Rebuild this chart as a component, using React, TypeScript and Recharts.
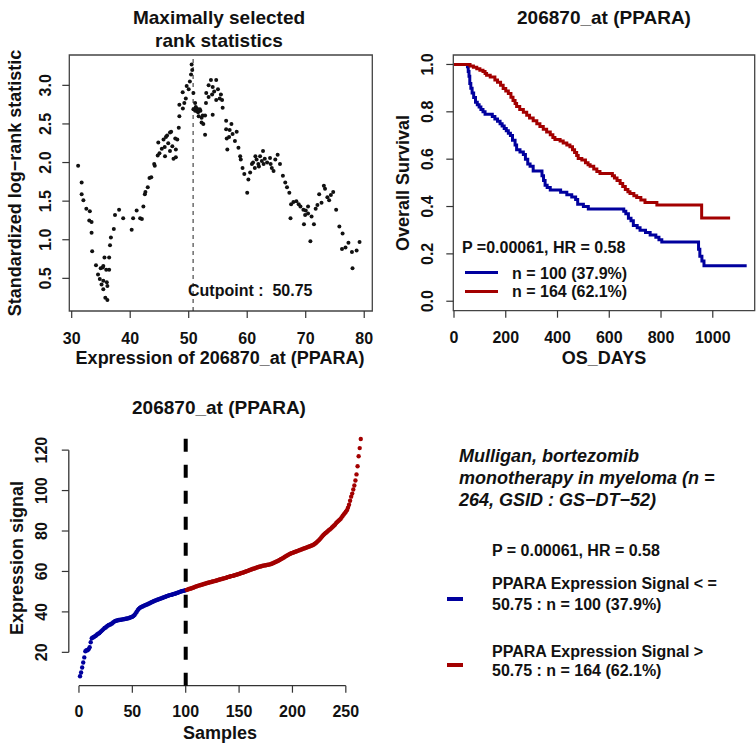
import React from "react"
import {
  ScatterChart,
  Scatter,
  LineChart,
  Line,
  XAxis,
  YAxis,
  ReferenceLine,
  ReferenceArea,
} from "recharts"

// maximally selected rank statistics (cutpoint candidate, standardized statistic)
const rankCut = [
  31.1, 31.7, 31.7, 32.0, 32.5, 33.0, 33.1, 33.4, 33.4, 33.5, 34.15, 34.5, 34.8, 34.95, 35.1, 35.3, 35.4, 35.4, 35.4,
  35.6, 35.75, 35.9, 36.0, 36.1, 36.1, 36.4, 36.4, 36.55, 36.7, 37.2, 37.4, 38.1, 38.8, 40.25, 40.5, 41.1, 41.7, 42.0,
  42.25, 42.5, 42.6, 43.0, 43.3, 43.6, 44.1, 44.2, 44.7, 44.8, 45.0, 45.4, 45.7, 45.9, 45.95, 46.1, 46.3, 46.5, 46.8,
  46.8, 47.0, 47.2, 47.4, 47.7, 47.8, 47.8, 48.05, 48.3, 48.4, 48.4, 48.97, 49.0, 49.25, 49.5, 49.65, 50.0, 50.2, 50.4,
  50.5, 50.6, 50.8, 50.8, 51.1, 51.1, 51.2, 51.35, 51.4, 51.6, 51.7, 51.9, 52.0, 52.2, 52.2, 52.4, 52.5, 52.8, 52.8,
  52.95, 53.0, 53.4, 53.4, 53.8, 54.0, 54.1, 54.1, 54.35, 54.7, 54.7, 55.0, 55.3, 55.5, 55.7, 55.8, 56.4, 56.4, 56.5,
  56.6, 56.9, 57.0, 57.3, 57.5, 57.9, 58.2, 58.5, 58.8, 58.9, 59.2, 59.5, 60.0, 60.2, 60.5, 60.8, 61.0, 61.3, 61.4,
  61.6, 61.9, 62.0, 62.2, 62.5, 62.7, 62.8, 63.0, 63.4, 63.9, 64.0, 64.2, 64.5, 64.8, 65.2, 65.6, 66.1, 66.5, 66.8,
  67.2, 67.4, 67.5, 67.9, 68.4, 68.8, 69.1, 69.6, 69.7, 69.9, 70.0, 70.4, 70.4, 70.8, 71.0, 71.4, 71.7, 72.0, 72.3,
  72.7, 73.1, 73.3, 73.7, 74.0, 74.3, 74.7, 75.2, 75.75, 76.2, 76.3, 76.8, 77.3, 77.9, 78.0, 78.7, 79.2,
]
const rankStat = [
  1.96, 1.74, 1.59, 1.51, 1.4, 1.25, 1.37, 1.23, 1.09, 0.85, 0.67, 0.55, 0.49, 0.63, 0.42, 0.64, 0.66, 0.47, 0.36,
  0.77, 0.25, 0.61, 0.45, 0.4, 0.22, 0.77, 0.61, 0.93, 1.03, 1.14, 1.32, 1.39, 1.28, 1.13, 1.28, 1.38, 1.28, 1.27,
  1.43, 1.59, 1.62, 1.68, 1.8, 1.81, 1.98, 1.96, 2.09, 2.26, 2.12, 2.18, 2.3, 2.2, 2.08, 2.33, 2.35, 2.25, 2.39,
  2.15, 2.4, 2.21, 2.05, 2.31, 2.07, 2.17, 2.3, 2.45, 2.6, 2.75, 2.91, 2.7, 2.77, 2.83, 2.99, 2.95, 3.05, 3.14,
  3.27, 3.2, 2.9, 2.69, 2.77, 2.67, 2.72, 2.67, 2.7, 2.65, 2.6, 2.69, 2.67, 2.52, 2.58, 2.61, 2.5, 2.36, 2.61,
  2.77, 2.9, 2.85, 3.0, 3.07, 2.88, 2.98, 2.62, 2.92, 3.07, 2.81, 2.95, 2.83, 2.88, 2.81, 2.71, 2.54, 2.43, 2.31,
  2.17, 2.33, 2.42, 2.5, 2.37, 2.28, 2.4, 2.19, 2.08, 2.04, 1.93, 1.85, 1.61, 1.78, 1.87, 1.98, 2.0, 1.93, 2.08,
  2.04, 1.98, 1.95, 2.08, 2.02, 2.15, 1.98, 2.05, 2.0, 2.06, 1.98, 1.93, 1.89, 2.04, 2.1, 1.98, 1.83, 1.74, 1.68,
  1.61, 1.28, 1.46, 1.49, 1.5, 1.46, 1.43, 1.39, 1.2, 1.32, 1.38, 1.43, 1.34, 0.98, 1.3, 1.2, 1.4, 1.45, 1.59,
  1.48, 1.7, 1.66, 1.55, 1.51, 1.58, 1.62, 1.39, 1.17, 0.88, 1.08, 0.9, 0.96, 0.84, 0.63, 0.86, 0.97,
]
const cutpoint = 50.75
const rankXTicks = [30, 40, 50, 60, 70, 80]
const rankYTicks = [0.5, 1.0, 1.5, 2.0, 2.5, 3.0]

// Kaplan-Meier curves: low expression (blue, n = 100) and high expression (red, n = 164)
const lowDays = [
  0, 52, 55, 58, 61, 65, 70, 76, 83, 90, 97, 104, 112, 120, 148, 158, 168, 178, 186, 194, 202, 210, 218, 226, 236,
  242, 255, 268, 276, 285, 294, 306, 340, 346, 352, 360, 372, 412, 436, 455, 470, 478, 500, 519, 656, 664, 674, 684,
  693, 708, 719, 740, 758, 780, 792, 803, 945, 950, 958, 966, 1131,
]
const lowSurv = [
  1.0, 0.99, 0.97, 0.95, 0.92, 0.9, 0.88, 0.86, 0.84, 0.83, 0.82, 0.81, 0.8, 0.79, 0.78, 0.77, 0.76, 0.75, 0.74, 0.73,
  0.72, 0.71, 0.7, 0.68, 0.66, 0.64, 0.63, 0.62, 0.6, 0.58, 0.57, 0.55, 0.53, 0.51, 0.49, 0.48, 0.47, 0.46, 0.45,
  0.44, 0.43, 0.41, 0.4, 0.39, 0.38, 0.37, 0.35, 0.34, 0.32, 0.31, 0.3, 0.29, 0.28, 0.27, 0.26, 0.25, 0.22, 0.19,
  0.17, 0.15, 0.15,
]
const highDays = [
  0, 62, 75, 88, 100, 112, 120, 126, 140, 158, 168, 180, 190, 200, 210, 220, 228, 236, 242, 254, 268, 281, 292, 306,
  320, 332, 345, 358, 372, 382, 390, 410, 422, 436, 448, 458, 466, 474, 480, 494, 508, 518, 526, 540, 552, 564, 612,
  620, 630, 642, 652, 662, 672, 680, 695, 706, 722, 738, 784, 957, 1067,
]
const highSurv = [
  1.0, 0.994, 0.988, 0.982, 0.976, 0.97, 0.962, 0.955, 0.947, 0.934, 0.925, 0.912, 0.898, 0.888, 0.877, 0.862, 0.848,
  0.835, 0.822, 0.81, 0.798, 0.786, 0.774, 0.762, 0.75, 0.738, 0.726, 0.715, 0.703, 0.692, 0.683, 0.677, 0.668, 0.66,
  0.652, 0.64, 0.628, 0.615, 0.603, 0.597, 0.585, 0.576, 0.57, 0.558, 0.548, 0.54, 0.53, 0.52, 0.51, 0.497, 0.485,
  0.472, 0.462, 0.455, 0.445, 0.438, 0.428, 0.417, 0.406, 0.352, 0.352,
]
const kmXTicks = [0, 200, 400, 600, 800, 1000]
const kmYTicks = [0, 0.2, 0.4, 0.6, 0.8, 1.0]

// sorted expression signal per sample
const lowSignal = [
  8.2, 10, 12.5, 15, 17.5, 20.5, 21, 21, 21.5, 22.5, 25, 27, 27.3, 27.6, 28, 28.3, 28.8, 29.2, 29.5, 30,
  30.5, 31, 31.5, 32, 32.3, 32.8, 33.2, 33.5, 33.7, 34, 34.3, 34.8, 35.2, 35.5, 35.6, 35.8, 36, 36, 36.1, 36.2,
  36.3, 36.4, 36.5, 36.6, 36.7, 36.8, 37, 37.2, 37.4, 37.6, 38, 38.5, 39.2, 40, 40.8, 41.5, 42, 42.3, 42.6, 42.8,
  43.1, 43.3, 43.5, 43.7, 44, 44.2, 44.5, 44.8, 45, 45.3, 45.5, 45.7, 45.9, 46.1, 46.3, 46.5, 46.7, 46.9, 47.1, 47.3,
  47.5, 47.7, 47.9, 48.1, 48.3, 48.4, 48.5, 48.7, 48.9, 49, 49.2, 49.4, 49.6, 49.8, 50, 50.2, 50.3, 50.4, 50.6, 50.75,
]
const highSignal = [
  50.9, 51.1, 51.3, 51.5, 51.6, 51.8, 52.0, 52.2, 52.4, 52.6, 52.8, 53.0, 53.1, 53.3, 53.4, 53.6, 53.8, 53.9, 54.1, 54.3,
  54.4, 54.5, 54.7, 54.8, 55.0, 55.1, 55.2, 55.4, 55.5, 55.7, 55.9, 56.0, 56.2, 56.3, 56.5, 56.6, 56.7, 56.9, 57.1, 57.3,
  57.4, 57.6, 57.7, 57.8, 58.0, 58.1, 58.3, 58.5, 58.6, 58.8, 59.0, 59.2, 59.3, 59.5, 59.7, 59.9, 60.1, 60.3, 60.5, 60.7,
  60.9, 61.1, 61.3, 61.4, 61.6, 61.8, 62.0, 62.2, 62.3, 62.5, 62.6, 62.8, 62.9, 63.0, 63.1, 63.2, 63.3, 63.4, 63.5, 63.7,
  63.9, 64.1, 64.4, 64.6, 64.9, 65.1, 65.4, 65.7, 66.0, 66.3, 66.6, 66.9, 67.3, 67.6, 67.9, 68.2, 68.5, 68.8, 69.0, 69.2,
  69.4, 69.6, 69.8, 70.0, 70.2, 70.4, 70.6, 70.8, 71.0, 71.2, 71.4, 71.6, 71.8, 72.0, 72.2, 72.4, 72.6, 72.8, 73.0, 73.3,
  73.7, 74.1, 74.6, 75.1, 75.6, 76.2, 76.8, 77.4, 78.0, 78.5, 79.0, 79.4, 79.9, 80.4, 80.8, 81.2, 81.7, 82.2, 82.7, 83.2,
  84.0, 84.5, 85.0, 85.5, 86.0, 86.7, 87.4, 88.2, 88.8, 89.5, 90.3, 91.5, 93.0, 95.0, 97.0, 98.5, 100.5, 102.5, 105.0, 108.0,
  112.0, 117.0, 121.0, 125.5,
]
const sigXTicks = [0, 50, 100, 150, 200, 250]
const sigYTicks = [20, 40, 60, 80, 100, 120]

const FONT = '"Liberation Sans", Arial, Helvetica, sans-serif'
const BLUE = "#00009E"
const RED = "#A30000"
const INK = "#111"

const rankData = rankCut.map((x, i) => ({ x, y: rankStat[i] }))
const lowKm = lowDays.map((day, i) => ({ day, surv: lowSurv[i] }))
const highKm = highDays.map((day, i) => ({ day, surv: highSurv[i] }))
const lowSig = lowSignal.map((y, i) => ({ x: i + 1, y }))
const highSig = highSignal.map((y, i) => ({ x: i + 1 + lowSignal.length, y }))

// axis boxes reserved by recharts; margins below are computed around them
const AX_H = 30
const AX_W = 40

const XTick = (props: any) => {
  const { x, y, payload, dy = 18, fmt } = props
  return (
    <text x={x} y={y + dy} textAnchor="middle" dominantBaseline="central" fontSize={16} fontWeight="bold" fill={INK} fontFamily={FONT}>
      {fmt ? fmt(payload.value) : payload.value}
    </text>
  )
}

const YTick = (props: any) => {
  const { x, y, payload, dx = -16, fmt } = props
  const cx = x + dx
  return (
    <text x={cx} y={y} transform={`rotate(-90, ${cx}, ${y})`} textAnchor="middle" dominantBaseline="central" fontSize={16} fontWeight="bold" fill={INK} fontFamily={FONT}>
      {fmt ? fmt(payload.value) : payload.value}
    </text>
  )
}

const fmt1 = (v: number) => v.toFixed(1)

const Txt = ({ x, y, size = 18, rotate = false, children }: any) => (
  <div
    style={{
      position: "absolute",
      left: x,
      top: y,
      transform: `translate(-50%, -50%)${rotate ? " rotate(-90deg)" : ""}`,
      whiteSpace: "nowrap",
      fontFamily: FONT,
      fontWeight: "bold",
      fontSize: size,
      color: INK,
      lineHeight: 1,
    }}
  >
    {children}
  </div>
)

const dot = (color: string, r: number) => (p: any) => <circle cx={p.cx} cy={p.cy} r={r} fill={color} />

const rankX: [number, number] = [29.59, 81.38]
const rankY: [number, number] = [0.077, 3.393]
const kmX: [number, number] = [-2.7, 1162]
const kmY: [number, number] = [-0.04, 1.04]
const sigX: [number, number] = [-9.52, 274.52]
const sigY: [number, number] = [3.5, 130.2]

const tickLine = { stroke: "#333", strokeWidth: 1.2 }

export default function App() {
  return (
    <div style={{ position: "absolute", left: 0, top: 0, width: 756, height: 746, background: "#fff", overflow: "hidden" }}>
      {/* top left: maximally selected rank statistics */}
      <div style={{ position: "absolute", left: 0, top: 0 }}>
        <ScatterChart width={380} height={370} margin={{ top: 55, right: 7.7, bottom: 59 - AX_H, left: 69.3 - AX_W }}>
          <XAxis type="number" dataKey="x" domain={rankX} ticks={rankXTicks} height={AX_H} axisLine={false} tickSize={7} tickLine={tickLine} tick={<XTick dy={18} />} allowDataOverflow interval={0} />
          <YAxis type="number" dataKey="y" domain={rankY} ticks={rankYTicks} width={AX_W} axisLine={false} tickSize={7} tickLine={tickLine} tick={<YTick dx={-15} fmt={fmt1} />} allowDataOverflow interval={0} />
          <ReferenceArea x1={rankX[0]} x2={rankX[1]} y1={rankY[0]} y2={rankY[1]} fill="none" fillOpacity={0} stroke="#444" strokeWidth={1.3} />
          <ReferenceLine x={cutpoint} stroke="#222" strokeDasharray="4 4" />
          <Scatter data={rankData} shape={dot("#111", 2)} isAnimationActive={false} />
        </ScatterChart>
      </div>
      <Txt x={219} y={17} size={19}>Maximally selected</Txt>
      <Txt x={219} y={40} size={19}>rank statistics</Txt>
      <Txt x={15} y={183} rotate>Standardized log−rank statistic</Txt>
      <Txt x={220} y={358}>Expression of 206870_at (PPARA)</Txt>
      <div style={{ position: "absolute", left: 188, top: 283, fontFamily: FONT, fontWeight: "bold", fontSize: 16, color: INK, whiteSpace: "pre", lineHeight: 1 }}>
        {`Cutpoint :  ${cutpoint}`}
      </div>

      {/* top right: Kaplan-Meier */}
      <div style={{ position: "absolute", left: 380, top: 0 }}>
        <LineChart width={376} height={370} margin={{ top: 55, right: 1.3, bottom: 59.3 - AX_H, left: 73.3 - AX_W }}>
          <XAxis type="number" dataKey="day" domain={kmX} ticks={kmXTicks} height={AX_H} axisLine={false} tickSize={7} tickLine={tickLine} tick={<XTick dy={18} />} allowDataOverflow interval={0} />
          <YAxis type="number" domain={kmY} ticks={kmYTicks} width={AX_W} axisLine={false} tickSize={7} tickLine={tickLine} tick={<YTick dx={-17} fmt={fmt1} />} allowDataOverflow interval={0} />
          <ReferenceArea x1={kmX[0]} x2={kmX[1]} y1={kmY[0]} y2={kmY[1]} fill="none" fillOpacity={0} stroke="#444" strokeWidth={1.3} />
          <Line data={lowKm} dataKey="surv" type="stepAfter" stroke={BLUE} strokeWidth={3} dot={false} isAnimationActive={false} />
          <Line data={highKm} dataKey="surv" type="stepAfter" stroke={RED} strokeWidth={3} dot={false} isAnimationActive={false} />
        </LineChart>
      </div>
      <Txt x={604} y={17} size={19}>206870_at (PPARA)</Txt>
      <Txt x={403} y={183} rotate>Overall Survival</Txt>
      <Txt x={604} y={358}>OS_DAYS</Txt>
      <div style={{ position: "absolute", left: 462, top: 240, fontFamily: FONT, fontWeight: "bold", fontSize: 16, color: INK, whiteSpace: "nowrap", lineHeight: 1 }}>
        P =0.00061, HR = 0.58
      </div>
      <div style={{ position: "absolute", left: 465, top: 271, width: 33, height: 3, background: BLUE }} />
      <div style={{ position: "absolute", left: 465, top: 289.5, width: 33, height: 3, background: RED }} />
      <div style={{ position: "absolute", left: 512, top: 264.5, fontFamily: FONT, fontWeight: "bold", fontSize: 16, color: INK, whiteSpace: "nowrap", lineHeight: "18.5px" }}>
        <div>n = 100 (37.9%)</div>
        <div>n = 164 (62.1%)</div>
      </div>

      {/* bottom left: sorted expression signal */}
      <div style={{ position: "absolute", left: 0, top: 380 }}>
        <ScatterChart width={380} height={366} margin={{ top: 49.5, right: 8, bottom: 60.3 - AX_H, left: 68.8 - AX_W }}>
          <XAxis type="number" dataKey="x" domain={sigX} ticks={sigXTicks} height={AX_H} axisLine={false} tickSize={7} tickLine={tickLine} tick={<XTick dy={17} />} allowDataOverflow interval={0} />
          <YAxis type="number" dataKey="y" domain={sigY} ticks={sigYTicks} width={AX_W} axisLine={false} tickSize={7} tickLine={tickLine} tick={<YTick dx={-18} />} allowDataOverflow interval={0} />
          <ReferenceLine segment={[{ x: sigXTicks[0], y: sigY[0] }, { x: sigXTicks[sigXTicks.length - 1], y: sigY[0] }]} stroke="#333" strokeWidth={1.3} ifOverflow="visible" />
          <ReferenceLine segment={[{ x: sigX[0], y: sigYTicks[0] }, { x: sigX[0], y: sigYTicks[sigYTicks.length - 1] }]} stroke="#333" strokeWidth={1.3} ifOverflow="visible" />
          <ReferenceLine x={lowSignal.length} stroke="#000" strokeWidth={4} strokeDasharray="13 13" />
          <Scatter data={lowSig} shape={dot(BLUE, 2.2)} isAnimationActive={false} />
          <Scatter data={highSig} shape={dot(RED, 2.2)} isAnimationActive={false} />
        </ScatterChart>
      </div>
      <Txt x={219} y={407} size={19}>206870_at (PPARA)</Txt>
      <Txt x={17} y={558} rotate>Expression signal</Txt>
      <Txt x={220} y={733}>Samples</Txt>

      {/* bottom right: legend text */}
      <div style={{ position: "absolute", left: 459, top: 445, fontFamily: FONT, fontWeight: "bold", fontStyle: "italic", fontSize: 18, color: INK, whiteSpace: "nowrap", lineHeight: "22.2px" }}>
        <div>Mulligan, bortezomib</div>
        <div>monotherapy in myeloma (n =</div>
        <div>264, GSID : GS−DT−52)</div>
      </div>
      <div style={{ position: "absolute", left: 492, top: 543, fontFamily: FONT, fontWeight: "bold", fontSize: 16, color: INK, whiteSpace: "nowrap", lineHeight: 1 }}>
        P = 0.00061, HR = 0.58
      </div>
      <div style={{ position: "absolute", left: 446.7, top: 596.5, width: 16, height: 4, background: BLUE }} />
      <div style={{ position: "absolute", left: 492, top: 574, fontFamily: FONT, fontWeight: "bold", fontSize: 16, color: INK, whiteSpace: "nowrap", lineHeight: "20.5px" }}>
        <div>PPARA Expression Signal &lt; =</div>
        <div>50.75 : n = 100 (37.9%)</div>
      </div>
      <div style={{ position: "absolute", left: 446.7, top: 663, width: 16, height: 4, background: RED }} />
      <div style={{ position: "absolute", left: 492, top: 641.5, fontFamily: FONT, fontWeight: "bold", fontSize: 16, color: INK, whiteSpace: "nowrap", lineHeight: "19.5px" }}>
        <div>PPARA Expression Signal &gt;</div>
        <div>50.75 : n = 164 (62.1%)</div>
      </div>
    </div>
  )
}
